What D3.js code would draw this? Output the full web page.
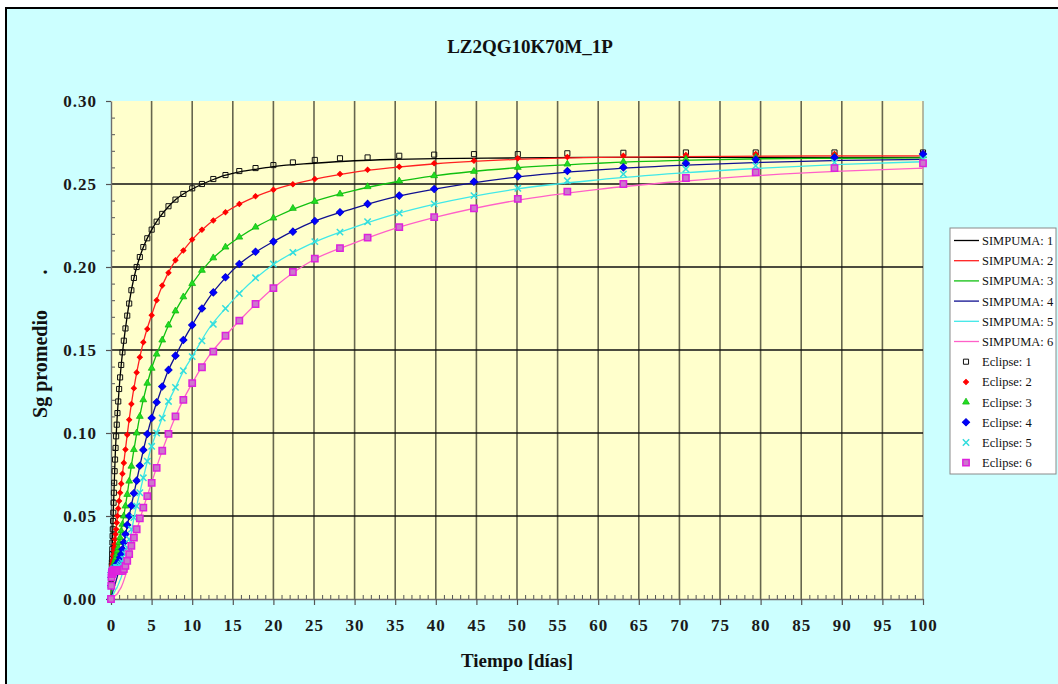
<!DOCTYPE html>
<html>
<head>
<meta charset="utf-8">
<script src="https://cdn.jsdelivr.net/npm/d3@7"></script>
<style>
  html, body { margin: 0; padding: 0; background: #ffffff; }
  svg { display: block; }
  text { font-family: "Liberation Serif", "Times New Roman", serif; }
</style>
</head>
<body>
<svg id="chart" width="1058" height="684"></svg>
<script>
// Simulation output: average gas saturation vs. time, six cases.
const chartTitle = "LZ2QG10K70M_1P";
const xTitle = "Tiempo [días]";
const yTitle = "Sg promedio";

const xTicks = [0, 5, 10, 15, 20, 25, 30, 35, 40, 45, 50, 55, 60, 65, 70, 75, 80, 85, 90, 95, 100];
const yTicks = [0.00, 0.05, 0.10, 0.15, 0.20, 0.25, 0.30];

const simpumaNames = ["SIMPUMA: 1", "SIMPUMA: 2", "SIMPUMA: 3", "SIMPUMA: 4", "SIMPUMA: 5", "SIMPUMA: 6"];
const eclipseNames = ["Eclipse: 1", "Eclipse: 2", "Eclipse: 3", "Eclipse: 4", "Eclipse: 5", "Eclipse: 6"];

// Eclipse report times [days]
const eclipseTimes = [0, 0.03, 0.06,
  0.1, 0.112, 0.126, 0.141, 0.158, 0.178, 0.2, 0.224, 0.251, 0.282, 0.316, 0.355, 0.398, 0.447, 0.501, 0.562, 0.631, 0.708, 0.794, 0.891,
  1.0, 1.12, 1.26, 1.41, 1.58, 1.78, 2.0, 2.24, 2.51, 2.82,
  3.16, 3.55, 3.98, 4.47, 5.01, 5.62, 6.31, 7.08, 7.94, 8.91,
  10.0, 11.2, 12.6, 14.1, 15.8, 17.8, 20.0, 22.4, 25.1, 28.2,
  31.6, 35.5, 39.8, 44.7, 50.1, 56.2, 63.1, 70.8, 79.4, 89.1,
  100];

const eclipse1 = [0, 0.009, 0.015,
  0.020, 0.022, 0.024, 0.027, 0.030, 0.034, 0.038, 0.042, 0.047, 0.052, 0.058, 0.064, 0.070, 0.077, 0.084, 0.091, 0.098, 0.105, 0.112, 0.119,
  0.1265, 0.1335, 0.141, 0.1486, 0.1556, 0.163, 0.1707, 0.178, 0.186, 0.1934,
  0.200, 0.206, 0.212, 0.2173, 0.2225, 0.2273, 0.232, 0.2366, 0.2406, 0.244,
  0.2474, 0.250, 0.253, 0.2554, 0.2578, 0.2596, 0.2614, 0.263, 0.2645, 0.2655,
  0.266, 0.267, 0.2677, 0.268, 0.268, 0.2685, 0.2688, 0.269, 0.269, 0.269,
  0.269];
const eclipse2 = [0, 0.008, 0.013,
  0.016, 0.017, 0.018, 0.019, 0.020, 0.021, 0.022, 0.023, 0.024, 0.026, 0.027, 0.029, 0.031, 0.033, 0.036, 0.039, 0.042, 0.046, 0.050, 0.0545,
  0.059, 0.064, 0.0695, 0.0755, 0.082, 0.090, 0.099, 0.108, 0.1175, 0.127,
  0.1365, 0.1456, 0.1546, 0.1627, 0.171, 0.180, 0.1888, 0.1966, 0.204, 0.210,
  0.2165, 0.2225, 0.228, 0.233, 0.238, 0.2426, 0.2466, 0.2498, 0.253, 0.256,
  0.2586, 0.2604, 0.2625, 0.264, 0.2655, 0.2662, 0.267, 0.2675, 0.268, 0.268,
  0.2685];
const eclipse3 = [0, 0.008, 0.013,
  0.016, 0.016, 0.017, 0.017, 0.017, 0.018, 0.018, 0.018, 0.019, 0.019, 0.020, 0.020, 0.021, 0.022, 0.023, 0.024, 0.025, 0.027, 0.029, 0.031,
  0.034, 0.037, 0.041, 0.045, 0.050, 0.056, 0.063, 0.071, 0.080, 0.090,
  0.100, 0.110, 0.120, 0.130, 0.139, 0.1475, 0.156, 0.165, 0.1735, 0.182,
  0.190, 0.198, 0.2055, 0.212, 0.218, 0.224, 0.2295, 0.2353, 0.2395, 0.244,
  0.2484, 0.2518, 0.255, 0.2576, 0.260, 0.262, 0.2634, 0.265, 0.266, 0.2665,
  0.267];
const eclipse4 = [0, 0.008, 0.013,
  0.016, 0.016, 0.016, 0.017, 0.017, 0.017, 0.017, 0.018, 0.018, 0.018, 0.018, 0.018, 0.019, 0.019, 0.019, 0.020, 0.020, 0.021, 0.021, 0.022,
  0.023, 0.025, 0.027, 0.030, 0.034, 0.039, 0.0446, 0.050, 0.0562, 0.0637,
  0.0713, 0.0803, 0.0898, 0.0994, 0.109, 0.1185, 0.128, 0.138, 0.1466, 0.156,
  0.165, 0.175, 0.1847, 0.1938, 0.2018, 0.2092, 0.2153, 0.2213, 0.2277, 0.233,
  0.238, 0.243, 0.247, 0.2514, 0.2546, 0.2578, 0.260, 0.2625, 0.2647, 0.266,
  0.268];
const eclipse5 = [0, 0.008, 0.013,
  0.016, 0.016, 0.016, 0.017, 0.017, 0.017, 0.017, 0.017, 0.017, 0.018, 0.018, 0.018, 0.018, 0.018, 0.018, 0.018, 0.019, 0.019, 0.019, 0.019,
  0.019, 0.020, 0.021, 0.022, 0.024, 0.027, 0.031, 0.036, 0.042, 0.049,
  0.056, 0.064, 0.073, 0.083, 0.092, 0.100, 0.109, 0.119, 0.1275, 0.1375,
  0.146, 0.1555, 0.1655, 0.175, 0.184, 0.1935, 0.2018, 0.2088, 0.2153, 0.221,
  0.2273, 0.2325, 0.238, 0.243, 0.2474, 0.252, 0.256, 0.259, 0.261, 0.263,
  0.265];
const eclipse6 = [0, 0.008, 0.013,
  0.015, 0.015, 0.016, 0.016, 0.016, 0.016, 0.016, 0.016, 0.017, 0.017, 0.017, 0.017, 0.017, 0.017, 0.017, 0.017, 0.017, 0.017, 0.017, 0.017,
  0.017, 0.017, 0.017, 0.017, 0.018, 0.020, 0.023, 0.027, 0.032, 0.037,
  0.042, 0.0486, 0.055, 0.062, 0.070, 0.079, 0.0893, 0.0995, 0.110, 0.120,
  0.130, 0.1396, 0.149, 0.1586, 0.1677, 0.1777, 0.1873, 0.197, 0.205, 0.2114,
  0.2177, 0.224, 0.230, 0.2353, 0.241, 0.2454, 0.250, 0.2536, 0.257, 0.2596,
  0.2625];

// SIMPUMA output times [days]
const simpumaTimes = [0, 0.1, 0.2, 0.3, 0.5, 0.75, 1, 1.25, 1.5, 2, 2.5, 3, 3.5, 4, 5, 6, 7, 8, 9, 10,
  12, 14, 16, 18, 20, 25, 30, 35, 40, 50, 60, 70, 80, 90, 100];

const simpuma1 = [0, 0.020, 0.038, 0.055, 0.084, 0.1085, 0.1265, 0.1405, 0.152, 0.1707,
  0.1857, 0.197, 0.2053, 0.2122, 0.2224, 0.230, 0.236, 0.2408, 0.2443, 0.247,
  0.2515, 0.2552, 0.2575, 0.259, 0.2605, 0.2625, 0.264, 0.2648, 0.2653, 0.2657,
  0.266, 0.266, 0.266, 0.266, 0.266];
const simpuma2 = [0, 0.012, 0.019, 0.026, 0.036, 0.048, 0.059, 0.069, 0.079, 0.099,
  0.1172, 0.132, 0.1445, 0.155, 0.171, 0.185, 0.196, 0.2045, 0.2105, 0.2165,
  0.2258, 0.2327, 0.2383, 0.2428, 0.2465, 0.2528, 0.2572, 0.260, 0.2622, 0.2648,
  0.266, 0.2665, 0.2668, 0.267, 0.267];
const simpuma3 = [0, 0.008, 0.013, 0.017, 0.022, 0.027, 0.033, 0.041, 0.048, 0.063,
  0.080, 0.095, 0.109, 0.1205, 0.139, 0.152, 0.164, 0.174, 0.1825, 0.190,
  0.2025, 0.2115, 0.2185, 0.2245, 0.2295, 0.2395, 0.2462, 0.2512, 0.255, 0.2598,
  0.2625, 0.2642, 0.2652, 0.2655, 0.2657];
const simpuma4 = [0, 0.002, 0.004, 0.006, 0.009, 0.013, 0.018, 0.024, 0.031, 0.044,
  0.0562, 0.0675, 0.079, 0.090, 0.109, 0.1235, 0.137, 0.147, 0.1565, 0.165,
  0.181, 0.193, 0.2025, 0.2095, 0.2153, 0.2275, 0.2355, 0.2422, 0.247, 0.2542,
  0.2585, 0.2612, 0.263, 0.2642, 0.2648];
const simpuma5 = [0, 0.001, 0.002, 0.003, 0.005, 0.007, 0.010, 0.013, 0.017, 0.027,
  0.040, 0.053, 0.063, 0.0735, 0.092, 0.105, 0.118, 0.128, 0.138, 0.146,
  0.1625, 0.1745, 0.185, 0.194, 0.2015, 0.2148, 0.224, 0.2318, 0.238, 0.247,
  0.2525, 0.2565, 0.2595, 0.2618, 0.2634];
const simpuma6 = [0, 0.0, 0.001, 0.001, 0.002, 0.003, 0.005, 0.007, 0.010, 0.018,
  0.029, 0.038, 0.047, 0.055, 0.070, 0.085, 0.0985, 0.1105, 0.121, 0.130,
  0.146, 0.158, 0.1687, 0.1785, 0.1873, 0.2045, 0.2145, 0.2232, 0.230, 0.2402,
  0.2468, 0.2515, 0.2552, 0.2578, 0.2595];

const simpumaSeries = [simpuma1, simpuma2, simpuma3, simpuma4, simpuma5, simpuma6];
const eclipseSeries = [eclipse1, eclipse2, eclipse3, eclipse4, eclipse5, eclipse6];

// ---- styling ----
const lineColors = ["#000000", "#FF2020", "#10C010", "#101090", "#40E8E8", "#FF60C8"];
const symTimes = d3.symbolTimes || d3.symbolCross;
// rot: rotate the glyph by 45 degrees (square -> diamond)
const markerStyles = [
  { type: d3.symbolSquare,   size: 26, rot: 0,  fill: "none",    stroke: "#111111", width: 1 },
  { type: d3.symbolSquare,   size: 13, rot: 45, fill: "#FF0000", stroke: "#FF0000", width: 1 },
  { type: d3.symbolTriangle, size: 20, rot: 0,  fill: "#22DD22", stroke: "#11BB11", width: 0.8 },
  { type: d3.symbolSquare,   size: 26, rot: 45, fill: "#0000FF", stroke: "#0000DD", width: 1 },
  { type: symTimes,          size: 28, rot: 0,  fill: "none",    stroke: "#33DDDD", width: 1.5 },
  { type: d3.symbolSquare,   size: 40, rot: 0,  fill: "#CC77CC", stroke: "#DD22DD", width: 1.5 }
];

const svg = d3.select("#chart");
const W = 1058, H = 684;

// chart area background and frame
svg.append("rect").attr("x", 6).attr("y", 8).attr("width", W + 10).attr("height", H + 10)
  .attr("fill", "#CCFFFF").attr("stroke", "#000").attr("stroke-width", 2);

const x = d3.scaleLinear().domain([0, 100]).range([111, 923]);
const y = d3.scaleLinear().domain([0, 0.30]).range([599, 101]);

// plot area
svg.append("rect")
  .attr("x", x(0)).attr("y", y(0.30))
  .attr("width", x(100) - x(0)).attr("height", y(0) - y(0.30))
  .attr("fill", "#FFFFCC");

// grid
const grid = svg.append("g");
grid.selectAll("line.v").data(xTicks.filter(d => d > 0)).enter().append("line")
  .attr("x1", d => x(d)).attr("x2", d => x(d))
  .attr("y1", y(0.30)).attr("y2", y(0))
  .attr("stroke", d => d === 100 ? "#A8A890" : "#66664E").attr("stroke-width", 1.6);
grid.selectAll("line.h").data(yTicks.filter(d => d > 0 && d < 0.30)).enter().append("line")
  .attr("x1", x(0)).attr("x2", x(100))
  .attr("y1", d => y(d)).attr("y2", d => y(d))
  .attr("stroke", "#111111").attr("stroke-width", 1.4);

// minor ticks inside plot
const minorY = d3.range(0.01, 0.30, 0.01).filter(v => Math.abs(v * 20 - Math.round(v * 20)) > 1e-6);
const minorX = d3.range(1, 100, 1).filter(v => v % 5 !== 0);
svg.append("g").attr("transform", `translate(${x(0)},0)`)
  .call(d3.axisRight(y).tickValues(minorY).tickSize(4).tickFormat(""))
  .call(g => g.select(".domain").remove())
  .selectAll("line").attr("stroke", "#555");
svg.append("g").attr("transform", `translate(0,${y(0)})`)
  .call(d3.axisTop(x).tickValues(minorX).tickSize(4).tickFormat(""))
  .call(g => g.select(".domain").remove())
  .selectAll("line").attr("stroke", "#555");

// axes
const yAxis = svg.append("g").attr("transform", `translate(${x(0)},0)`)
  .call(d3.axisLeft(y).tickValues(yTicks).tickFormat(d3.format(".2f")).tickSizeInner(5).tickSizeOuter(0).tickPadding(9));
const xAxis = svg.append("g").attr("transform", `translate(0,${y(0)})`)
  .call(d3.axisBottom(x).tickValues(xTicks).tickFormat(d3.format("d")).tickSizeInner(6).tickSizeOuter(0).tickPadding(14));
[yAxis, xAxis].forEach(a => {
  a.select(".domain").attr("stroke", "#6E6E6E").attr("stroke-width", 1.4);
  a.selectAll(".tick line").attr("stroke", "#555").attr("stroke-width", 1.2);
  a.selectAll(".tick text")
    .attr("font-family", "'Liberation Serif', 'Times New Roman', serif")
    .attr("font-size", 17).attr("font-weight", "bold").attr("fill", "#1A1A1A")
    .attr("letter-spacing", 1);
});

// titles
svg.append("text").attr("x", 530).attr("y", 53).attr("text-anchor", "middle")
  .attr("font-size", 19).attr("font-weight", "bold").attr("fill", "#111").text(chartTitle);
svg.append("text").attr("x", 517).attr("y", 667).attr("text-anchor", "middle")
  .attr("font-size", 19).attr("font-weight", "bold").attr("fill", "#111").text(xTitle);
svg.append("text").attr("transform", "translate(47,364) rotate(-90)").attr("text-anchor", "middle")
  .attr("font-size", 20).attr("font-weight", "bold").attr("fill", "#111").text(yTitle);
svg.append("text").attr("transform", "translate(47,272) rotate(-90)").attr("text-anchor", "middle")
  .attr("font-size", 20).attr("font-weight", "bold").attr("fill", "#111").text(".");

// SIMPUMA curves
const line = d3.line().x(d => x(d[0])).y(d => y(d[1])).curve(d3.curveMonotoneX);
simpumaSeries.forEach((vals, i) => {
  svg.append("path")
    .datum(simpumaTimes.map((t, k) => [t, vals[k]]))
    .attr("d", line).attr("fill", "none")
    .attr("stroke", lineColors[i]).attr("stroke-width", 1.3);
});

// Eclipse points
const sym = d3.symbol();
eclipseSeries.forEach((vals, i) => {
  const st = markerStyles[i];
  svg.append("g").selectAll("path")
    .data(eclipseTimes.map((t, k) => [t, vals[k]]))
    .enter().append("path")
    .attr("transform", d => `translate(${x(d[0])},${y(d[1])}) rotate(${st.rot})`)
    .attr("d", sym.type(st.type).size(st.size)())
    .attr("fill", st.fill).attr("stroke", st.stroke).attr("stroke-width", st.width);
});

// legend
const lg = svg.append("g");
lg.append("rect").attr("x", 950).attr("y", 228).attr("width", 106).attr("height", 246)
  .attr("fill", "#FFFFFF").attr("stroke", "#8A8A8A").attr("stroke-width", 1);
const rowY = i => 240.5 + i * 20.2;
simpumaNames.forEach((name, i) => {
  lg.append("line").attr("x1", 954).attr("x2", 979).attr("y1", rowY(i)).attr("y2", rowY(i))
    .attr("stroke", lineColors[i]).attr("stroke-width", 1.3);
  lg.append("text").attr("x", 982).attr("y", rowY(i) + 4.5)
    .attr("font-size", 12.5).attr("fill", "#111").text(name);
});
eclipseNames.forEach((name, j) => {
  const i = j + 6, st = markerStyles[j];
  lg.append("path").attr("transform", `translate(966,${rowY(i)}) rotate(${st.rot})`)
    .attr("d", sym.type(st.type).size(st.size)())
    .attr("fill", st.fill).attr("stroke", st.stroke).attr("stroke-width", st.width);
  lg.append("text").attr("x", 982).attr("y", rowY(i) + 4.5)
    .attr("font-size", 12.5).attr("fill", "#111").text(name);
});
</script>
</body>
</html>
